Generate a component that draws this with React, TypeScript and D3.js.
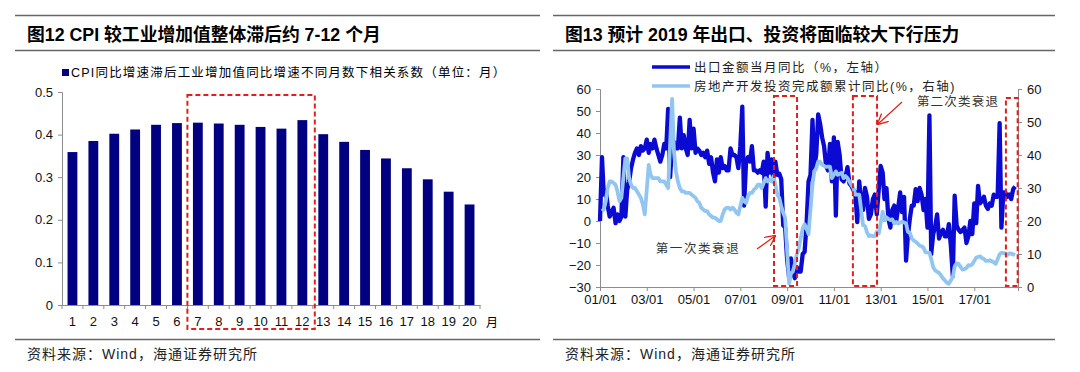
import React, { useEffect, useRef } from 'react';
import * as d3 from 'd3';

// 图12: correlation by lag (months)
const lagMonths = ['1', '2', '3', '4', '5', '6', '7', '8', '9', '10', '11', '12', '13', '14', '15', '16', '17', '18', '19', '20'];
const lagCorr = [0.359, 0.385, 0.402, 0.412, 0.423, 0.427, 0.428, 0.426, 0.423, 0.418, 0.414, 0.434, 0.401, 0.383, 0.364, 0.344, 0.321, 0.295, 0.266, 0.236];
const corrTicks = [0, 0.1, 0.2, 0.3, 0.4, 0.5];
const lagHighlight = ['7', '12'];

// 图13: monthly from 2001-01
const exportYoY = [
  0, 29, 12, 14, 7, 2, 4, 6, -1, 3, 0, 2,
  29, 2, 14, 18, 24, 28, 31, 33, 30, 34, 32, 33,
  37, 31, 35, 33, 37, 33, 30, 27, 30, 35, 33, 51,
  20, 35, 36, 33, 33, 47, 33, 39, 33, 30, 46, 33,
  42, 31, 33, 32, 30, 31, 29, 32, 26, 29, 22, 18,
  28, 22, 29, 24, 25, 23, 23, 33, 30, 30, 29, 24,
  34, 52, 7, 27, 29, 27, 34, 23, 23, 22, 23, 22,
  27, 6.5, 31, 22, 28, 18, 27, 21, 21.5, 19, -2, -3,
  -17.5, -25.7, -17, -23, -26, -21, -23, -23, -15, -14, -1, 18,
  21, 46, 24, 30.5, 48.5, 44, 38, 34, 25, 23, 35, 18,
  38, 2.4, 36, 30, 19, 18, 20, 24.5, 17, 16, 14, 13,
  -0.5, 18, 9, 5, 15, 11, 1, 3, 10, 12, 3, 14,
  25, 22, 10, 15, 1, -3, 5, 7, 0, 6, 13, 4,
  11, -18, -7, 1, 7, 7, 14.5, 9, 15, 12, 5, 10,
  -3, 48, -15, -6, -2.5, 3, -8, -5.5, -4, -7, -7, -1.4,
  -11, -25, 11.5, -2, -4, -5, -4, -3, -10, -7, 0, -6,
  8, -1, 16, 8, 9, 11, 7, 5.5, 8, 7, 12, 11,
  11, 44.5, -3, 13, 13, 11, 12, 10, 14.5, 15.6,
];
// cumulative, no January print
const estateYoY = [
  null, 23, 23.5, 26, 30, 32, 32, 31.5, 31, 29, 26, 27,
  null, 39, 39, 33, 31, 30, 30, 29, 28, 27, 25, 22,
  null, 37, 34, 33, 33, 33, 33, 32, 32, 32, 31, 30,
  null, 57, 41, 35, 32, 30, 29, 29, 28.5, 28.5, 28.5, 28,
  null, 27, 26, 25.5, 24, 23.5, 23, 23, 22, 21.5, 21, 21,
  null, 20, 20, 22, 23.5, 24, 24, 23.5, 24, 23.5, 22.5, 22,
  null, 27, 26, 25.5, 27.5, 28.5, 28.5, 29.5, 30, 31, 31, 30,
  null, 33, 32, 32.5, 32, 33.5, 31, 28, 27, 24.5, 22.5, 21,
  null, 1, 4, 4.7, 7, 10, 11.6, 14.7, 17.7, 19, 17.6, 16,
  null, 31, 35, 36, 38, 38, 37, 36.7, 36.4, 36.5, 36.5, 33,
  null, 35, 34, 34.3, 34.6, 33, 33.6, 33, 32, 31, 30, 28,
  null, 28, 23.5, 18.7, 18.5, 16.6, 15.4, 15.6, 15.4, 15.4, 16.7, 16.2,
  null, 22.8, 20.2, 21.1, 20.6, 20.3, 20.5, 19.3, 19.7, 19.2, 19.5, 19.8,
  null, 19.3, 16.8, 16.4, 14.7, 14.1, 13.7, 13.2, 12.5, 12.4, 11.9, 10.5,
  null, 10.4, 8.5, 6, 5.1, 4.6, 4.3, 3.5, 2.6, 2, 1.3, 1,
  null, 3, 6.2, 7.2, 7, 6.1, 5.3, 5.4, 5.8, 6.6, 6.5, 6.9,
  null, 8.9, 9.1, 9.3, 8.8, 8.5, 7.9, 7.9, 8.1, 7.8, 7.5, 7,
  null, 9.9, 10.4, 10.3, 10.2, 9.7, 10.2, 10.1, 9.9, 9.7,
];
const leftTicks = [-30, -20, -10, 0, 10, 20, 30, 40, 50, 60];
const rightTicks = [0, 10, 20, 30, 40, 50, 60];
const yearTicks = [2001, 2003, 2005, 2007, 2009, 2011, 2013, 2015, 2017];
const recessionSpans = [
  ['2008-06-10', '2009-06-05'],
  ['2011-10-25', '2012-11-05'],
  ['2018-05-10', '2018-11-10'],
];

const LATIN = '"Liberation Sans", Arial, "Noto Sans CJK SC", sans-serif';
const CJK = '"Noto Sans CJK SC", sans-serif';
const RED = '#e0201c';

const monthDate = (i: number) => new Date(2001, i, 1);

function App() {
  const ref = useRef<SVGSVGElement>(null);

  useEffect(() => {
    document.body.style.margin = '0';
    const svg = d3.select(ref.current);
    svg.selectAll('*').remove();

    // red open arrowhead
    svg.append('defs').append('marker')
      .attr('id', 'arr')
      .attr('viewBox', '0 0 10 10')
      .attr('refX', 9).attr('refY', 5)
      .attr('markerWidth', 9).attr('markerHeight', 9)
      .attr('orient', 'auto')
      .append('path')
      .attr('d', 'M0,0 L10,5 L0,10')
      .attr('fill', 'none')
      .attr('stroke', RED)
      .attr('stroke-width', 1.2);

    const frame = (x0: number, x1: number, title: string) => {
      [15.5, 50.5, 339.5].forEach((y) => {
        svg.append('line')
          .attr('x1', x0).attr('x2', x1).attr('y1', y).attr('y2', y)
          .attr('stroke', '#666').attr('stroke-width', 1.3);
      });
      svg.append('text')
        .attr('x', x0 + 12).attr('y', 40.5)
        .attr('font-family', LATIN).attr('font-weight', 'bold').attr('font-size', 17.8)
        .text(title);
      svg.append('text')
        .attr('x', x0 + 12).attr('y', 359)
        .attr('font-family', LATIN).attr('font-size', 14).attr('letter-spacing', 1).attr('fill', '#222')
        .text('资料来源：Wind，海通证券研究所');
    };

    const styleAxis = (g: d3.Selection<SVGGElement, unknown, null, undefined>) => {
      g.select('.domain').attr('stroke', '#8c8c8c');
      g.selectAll('.tick line').attr('stroke', '#8c8c8c');
      g.selectAll('.tick text').attr('font-family', LATIN).attr('font-size', 13).attr('fill', '#111');
    };

    // ---------- left panel ----------
    frame(15, 540, '图12 CPI 较工业增加值整体滞后约 7-12 个月');

    const xb = d3.scaleBand<string>().domain(lagMonths).range([62, 480])
      .paddingInner(0.53).paddingOuter(0.265);
    const yb = d3.scaleLinear().domain([0, 0.5]).range([305, 92]);

    svg.append('g')
      .selectAll('rect')
      .data(lagCorr)
      .join('rect')
      .attr('x', (_, i) => xb(lagMonths[i]) as number)
      .attr('y', (d) => yb(d))
      .attr('width', xb.bandwidth())
      .attr('height', (d) => yb(0) - yb(d))
      .attr('fill', '#000080');

    const gyl = svg.append('g')
      .attr('transform', 'translate(62,0)')
      .call(d3.axisLeft(yb).tickValues(corrTicks).tickSize(4).tickPadding(5)
        .tickFormat((d) => (+d === 0 ? '0' : d3.format('.1f')(+d))));
    styleAxis(gyl);

    const gxb = svg.append('g')
      .attr('transform', 'translate(0,305)')
      .call(d3.axisBottom(xb).tickSize(0).tickPadding(12));
    styleAxis(gxb);
    const gap = (xb.step() - xb.bandwidth()) / 2;
    gxb.selectAll('.bnd')
      .data(d3.range(lagMonths.length + 1))
      .join('line')
      .attr('x1', (i) => 62 + i * xb.step()).attr('x2', (i) => 62 + i * xb.step())
      .attr('y1', 0).attr('y2', 4)
      .attr('stroke', '#8c8c8c');
    svg.append('text')
      .attr('x', 486).attr('y', 327)
      .attr('font-family', CJK).attr('font-size', 12)
      .text('月');

    // legend
    svg.append('rect').attr('x', 62).attr('y', 69).attr('width', 7).attr('height', 7).attr('fill', '#000080');
    svg.append('text')
      .attr('x', 71).attr('y', 77)
      .attr('font-family', LATIN).attr('font-size', 12.5).attr('letter-spacing', 1.2)
      .text('CPI同比增速滞后工业增加值同比增速不同月数下相关系数（单位：月）');

    const hx0 = (xb(lagHighlight[0]) as number) - gap;
    const hx1 = (xb(lagHighlight[1]) as number) + xb.bandwidth() + gap;
    svg.append('rect')
      .attr('x', hx0).attr('y', yb(0.5) + 3)
      .attr('width', hx1 - hx0 + 2).attr('height', 329 - yb(0.5) - 3)
      .attr('fill', 'none').attr('stroke', RED).attr('stroke-width', 2)
      .attr('stroke-dasharray', '5,3');

    // ---------- right panel ----------
    frame(553, 1055, '图13 预计 2019 年出口、投资将面临较大下行压力');

    const xt = d3.scaleTime()
      .domain([new Date(2001, 0, 1), new Date(2018, 10, 15)])
      .range([600, 1018]);
    const yl = d3.scaleLinear().domain([-30, 60]).range([287, 89]);
    const yr = d3.scaleLinear().domain([0, 60]).range([287, 89]);

    const gl = svg.append('g').attr('transform', 'translate(600,0)')
      .call(d3.axisLeft(yl).tickValues(leftTicks).tickSize(4).tickPadding(5));
    styleAxis(gl);
    const gr = svg.append('g').attr('transform', 'translate(1018,0)')
      .call(d3.axisRight(yr).tickValues(rightTicks).tickSize(4).tickPadding(5));
    styleAxis(gr);
    const gx = svg.append('g').attr('transform', 'translate(0,287)')
      .call(d3.axisBottom(xt)
        .tickValues(yearTicks.map((y) => new Date(y, 0, 1)))
        .tickFormat((d) => d3.timeFormat('%y/%m')(d as Date))
        .tickSize(4).tickPadding(4));
    styleAxis(gx);

    const exportLine = d3.line<number>()
      .x((_, i) => xt(monthDate(i)))
      .y((d) => yl(d))
      .curve(d3.curveLinear);
    svg.append('path')
      .attr('d', exportLine(exportYoY) as string)
      .attr('fill', 'none').attr('stroke', '#0a0ad2')
      .attr('stroke-width', 4.3).attr('stroke-linejoin', 'round');

    const estatePts = estateYoY
      .map((v, i) => ({ d: monthDate(i), v }))
      .filter((p) => p.v !== null) as { d: Date; v: number }[];
    const estateLine = d3.line<{ d: Date; v: number }>()
      .x((p) => xt(p.d))
      .y((p) => yr(p.v));
    svg.append('path')
      .attr('d', estateLine(estatePts) as string)
      .attr('fill', 'none').attr('stroke', '#92c6f0')
      .attr('stroke-width', 3.8).attr('stroke-linejoin', 'round');

    // recession boxes
    recessionSpans.forEach(([a, b], i) => {
      const x0 = xt(new Date(a));
      const x1 = xt(new Date(b));
      const top = i === 2 ? 98 : 96;
      svg.append('rect')
        .attr('x', x0).attr('y', top)
        .attr('width', x1 - x0).attr('height', 286 - top)
        .attr('fill', 'none').attr('stroke', RED).attr('stroke-width', 2)
        .attr('stroke-dasharray', '5,3');
    });

    // arrows + notes
    svg.append('line')
      .attr('x1', 757).attr('y1', 249).attr('x2', 775).attr('y2', 236)
      .attr('stroke', RED).attr('stroke-width', 1.2).attr('marker-end', 'url(#arr)');
    svg.append('line')
      .attr('x1', 902).attr('y1', 102).attr('x2', 878).attr('y2', 124)
      .attr('stroke', RED).attr('stroke-width', 1.2).attr('marker-end', 'url(#arr)');
    svg.append('text')
      .attr('x', 698).attr('y', 253).attr('text-anchor', 'middle')
      .attr('font-family', CJK).attr('font-size', 12.5).attr('letter-spacing', 1.6).attr('fill', '#333')
      .text('第一次类衰退');
    svg.append('text')
      .attr('x', 958).attr('y', 106).attr('text-anchor', 'middle')
      .attr('font-family', CJK).attr('font-size', 12.5).attr('letter-spacing', 1.2).attr('fill', '#333')
      .text('第二次类衰退');

    // legend
    const legend = [
      { label: '出口金额当月同比（%，左轴）', color: '#0a0ad2', y: 67 },
      { label: '房地产开发投资完成额累计同比(%，右轴)', color: '#92c6f0', y: 86 },
    ];
    legend.forEach((l) => {
      svg.append('line')
        .attr('x1', 652).attr('x2', 690).attr('y1', l.y).attr('y2', l.y)
        .attr('stroke', l.color).attr('stroke-width', 3.6);
      svg.append('text')
        .attr('x', 694).attr('y', l.y + 4.5)
        .attr('font-family', LATIN).attr('font-size', 12.5).attr('letter-spacing', 1.5).attr('fill', '#222')
        .text(l.label);
    });
  }, []);

  return <svg ref={ref} width={1080} height={372} style={{ display: 'block', background: '#fff' }} />;
}

export default App;
